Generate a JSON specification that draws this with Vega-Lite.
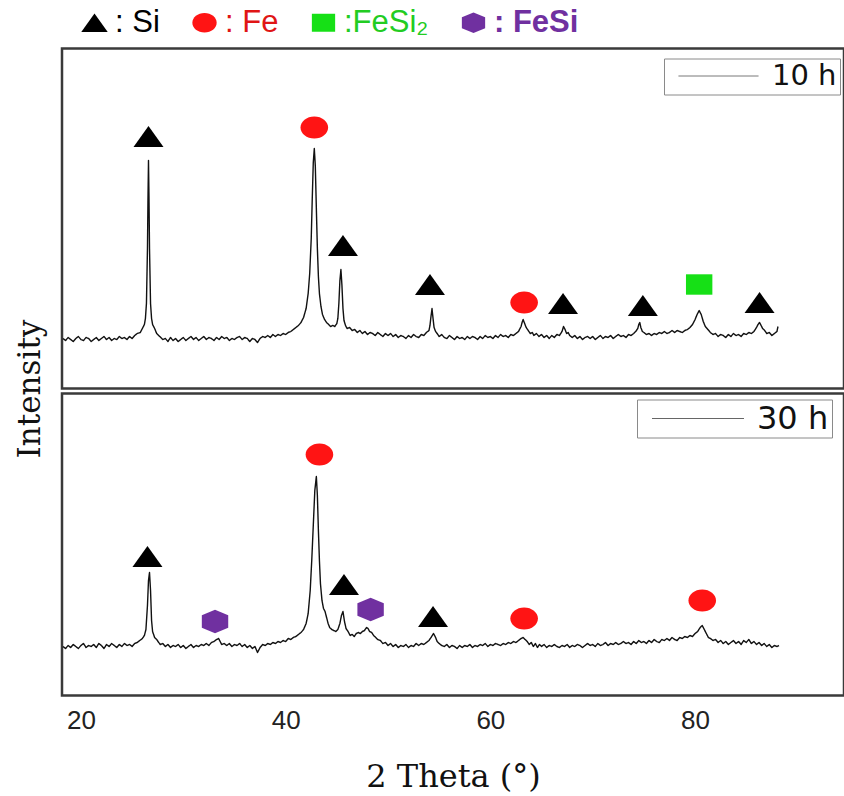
{
  "$schema": "https://vega.github.io/schema/vega-lite/v6.json",
  "background": "white",
  "padding": {"left": 12, "top": 6.5, "right": 0, "bottom": 0},
  "bounds": "flush",
  "spacing": 5,
  "config": {
    "view": {"stroke": "#3a3a3a", "strokeWidth": 2.5},
    "axis": {"grid": false, "domain": false, "ticks": false}
  },
  "datasets": {
    "scan10": [
      {"theta":18.25,"I":50},{"theta":18.5,"I":48},{"theta":18.75,"I":51},{"theta":19,"I":49},{"theta":19.25,"I":47},{"theta":19.5,"I":50},{"theta":19.75,"I":52},{"theta":20,"I":49},{"theta":20.25,"I":48},{"theta":20.5,"I":51},{"theta":20.75,"I":50},{"theta":21,"I":47},{"theta":21.25,"I":49},{"theta":21.5,"I":51},{"theta":21.75,"I":48},{"theta":22,"I":50},{"theta":22.25,"I":52},{"theta":22.5,"I":49},{"theta":22.75,"I":51},{"theta":23,"I":48},{"theta":23.25,"I":50},{"theta":23.5,"I":49},{"theta":23.75,"I":52},{"theta":24,"I":50},{"theta":24.25,"I":51},{"theta":24.5,"I":49},{"theta":24.75,"I":52},{"theta":25,"I":50},{"theta":25.25,"I":53},{"theta":25.5,"I":55},{"theta":25.8,"I":56},{"theta":26,"I":60},{"theta":26.2,"I":64},{"theta":26.3,"I":70},{"theta":26.4,"I":85},{"theta":26.5,"I":140},{"theta":26.55,"I":190},{"theta":26.6,"I":228},{"theta":26.65,"I":190},{"theta":26.7,"I":140},{"theta":26.8,"I":85},{"theta":26.9,"I":70},{"theta":27,"I":64},{"theta":27.2,"I":60},{"theta":27.4,"I":55},{"theta":27.6,"I":53},{"theta":27.8,"I":51},
      {"theta":28,"I":49},{"theta":28.25,"I":50},{"theta":28.5,"I":47},{"theta":28.75,"I":51},{"theta":29,"I":48},{"theta":29.25,"I":50},{"theta":29.5,"I":47},{"theta":29.75,"I":49},{"theta":30,"I":51},{"theta":30.25,"I":48},{"theta":30.5,"I":50},{"theta":30.75,"I":52},{"theta":31,"I":49},{"theta":31.25,"I":51},{"theta":31.5,"I":48},{"theta":31.75,"I":50},{"theta":32,"I":52},{"theta":32.25,"I":49},{"theta":32.5,"I":51},{"theta":32.75,"I":50},{"theta":33,"I":48},{"theta":33.25,"I":51},{"theta":33.5,"I":49},{"theta":33.75,"I":52},{"theta":34,"I":50},{"theta":34.25,"I":51},{"theta":34.5,"I":48},{"theta":34.75,"I":50},{"theta":35,"I":49},{"theta":35.25,"I":51},{"theta":35.5,"I":52},{"theta":35.75,"I":49},{"theta":36,"I":51},{"theta":36.25,"I":50},{"theta":36.5,"I":47},{"theta":36.75,"I":50},{"theta":37,"I":49},{"theta":37.25,"I":46},{"theta":37.5,"I":50},{"theta":37.75,"I":52},{"theta":38,"I":51},{"theta":38.25,"I":53},{"theta":38.5,"I":51},{"theta":38.75,"I":54},{"theta":39,"I":52},{"theta":39.25,"I":54},{"theta":39.5,"I":53},{"theta":39.75,"I":55},{"theta":40,"I":54},{"theta":40.25,"I":56},{"theta":40.5,"I":57},{"theta":40.75,"I":59},{"theta":41,"I":61},{"theta":41.25,"I":63},{"theta":41.5,"I":66},{"theta":41.75,"I":71},{"theta":42,"I":80},{"theta":42.2,"I":95},{"theta":42.35,"I":115},{"theta":42.5,"I":150},{"theta":42.6,"I":190},{"theta":42.7,"I":226},{"theta":42.8,"I":240},{"theta":42.9,"I":222},{"theta":43,"I":180},{"theta":43.1,"I":140},{"theta":43.2,"I":112},{"theta":43.3,"I":95},{"theta":43.45,"I":82},{"theta":43.6,"I":74},{"theta":43.8,"I":69},{"theta":44,"I":66},{"theta":44.2,"I":64},{"theta":44.4,"I":62},{"theta":44.6,"I":63},{"theta":44.8,"I":62},{"theta":45,"I":65},{"theta":45.1,"I":70},{"theta":45.2,"I":85},{"theta":45.3,"I":108},{"theta":45.4,"I":119},{"theta":45.5,"I":103},{"theta":45.6,"I":80},{"theta":45.7,"I":68},{"theta":45.85,"I":63},{"theta":46,"I":60},{"theta":46.25,"I":61},{"theta":46.5,"I":58},{"theta":46.75,"I":59},{"theta":47,"I":56},{"theta":47.25,"I":58},{"theta":47.5,"I":55},{"theta":47.75,"I":57},{"theta":48,"I":54},{"theta":48.25,"I":56},{"theta":48.5,"I":55},{"theta":48.75,"I":53},{"theta":49,"I":56},{"theta":49.25,"I":54},{"theta":49.5,"I":52},{"theta":49.75,"I":55},{"theta":50,"I":53},{"theta":50.25,"I":55},{"theta":50.5,"I":52},{"theta":50.75,"I":54},{"theta":51,"I":51},{"theta":51.25,"I":53},{"theta":51.5,"I":52},{"theta":51.75,"I":50},{"theta":52,"I":53},{"theta":52.25,"I":51},{"theta":52.5,"I":54},{"theta":52.75,"I":52},{"theta":53,"I":51},{"theta":53.25,"I":54},{"theta":53.5,"I":53},{"theta":53.75,"I":56},{"theta":54,"I":58},{"theta":54.1,"I":63},{"theta":54.2,"I":72},{"theta":54.3,"I":80},{"theta":54.4,"I":70},{"theta":54.5,"I":61},{"theta":54.65,"I":57},{"theta":54.8,"I":55},{"theta":55,"I":52},{"theta":55.25,"I":54},{"theta":55.5,"I":51},{"theta":55.75,"I":50},{"theta":56,"I":53},{"theta":56.25,"I":51},{"theta":56.5,"I":49},{"theta":56.75,"I":52},{"theta":57,"I":50},{"theta":57.25,"I":51},{"theta":57.5,"I":49},{"theta":57.75,"I":52},{"theta":58,"I":50},{"theta":58.25,"I":52},{"theta":58.5,"I":51},{"theta":58.75,"I":49},{"theta":59,"I":52},{"theta":59.25,"I":50},{"theta":59.5,"I":53},{"theta":59.75,"I":51},{"theta":60,"I":52},{"theta":60.25,"I":50},{"theta":60.5,"I":53},{"theta":60.75,"I":51},{"theta":61,"I":54},{"theta":61.25,"I":52},{"theta":61.5,"I":53},{"theta":61.75,"I":51},{"theta":62,"I":54},{"theta":62.25,"I":53},{"theta":62.5,"I":55},{"theta":62.75,"I":57},{"theta":63,"I":62},{"theta":63.1,"I":66},{"theta":63.2,"I":69},{"theta":63.35,"I":65},{"theta":63.5,"I":61},{"theta":63.7,"I":58},{"theta":63.9,"I":55},{"theta":64.1,"I":56},{"theta":64.25,"I":53},{"theta":64.5,"I":55},{"theta":64.75,"I":52},{"theta":65,"I":54},{"theta":65.25,"I":51},{"theta":65.5,"I":53},{"theta":65.75,"I":50},{"theta":66,"I":53},{"theta":66.25,"I":51},{"theta":66.5,"I":54},{"theta":66.75,"I":53},{"theta":67,"I":57},{"theta":67.15,"I":62},{"theta":67.3,"I":59},{"theta":67.45,"I":55},{"theta":67.6,"I":56},{"theta":67.75,"I":53},{"theta":68,"I":51},{"theta":68.25,"I":53},{"theta":68.5,"I":50},{"theta":68.75,"I":52},{"theta":69,"I":49},{"theta":69.25,"I":51},{"theta":69.5,"I":52},{"theta":69.75,"I":50},{"theta":70,"I":52},{"theta":70.25,"I":49},{"theta":70.5,"I":51},{"theta":70.75,"I":53},{"theta":71,"I":50},{"theta":71.25,"I":52},{"theta":71.5,"I":51},{"theta":71.75,"I":53},{"theta":72,"I":50},{"theta":72.25,"I":52},{"theta":72.5,"I":54},{"theta":72.75,"I":52},{"theta":73,"I":53},{"theta":73.25,"I":51},{"theta":73.5,"I":54},{"theta":73.75,"I":53},{"theta":74,"I":55},{"theta":74.2,"I":57},{"theta":74.4,"I":60},{"theta":74.5,"I":64},{"theta":74.6,"I":66},{"theta":74.7,"I":61},{"theta":74.85,"I":57},{"theta":75,"I":56},{"theta":75.25,"I":54},{"theta":75.5,"I":55},{"theta":75.75,"I":53},{"theta":76,"I":55},{"theta":76.25,"I":54},{"theta":76.5,"I":56},{"theta":76.75,"I":55},{"theta":77,"I":57},{"theta":77.25,"I":55},{"theta":77.5,"I":56},{"theta":77.75,"I":58},{"theta":78,"I":56},{"theta":78.25,"I":58},{"theta":78.5,"I":57},{"theta":78.75,"I":56},{"theta":79,"I":58},{"theta":79.25,"I":59},{"theta":79.5,"I":61},{"theta":79.75,"I":64},{"theta":80,"I":69},{"theta":80.2,"I":74},{"theta":80.4,"I":78},{"theta":80.6,"I":74},{"theta":80.8,"I":67},{"theta":81,"I":62},{"theta":81.25,"I":59},{"theta":81.5,"I":56},{"theta":81.75,"I":54},{"theta":82,"I":55},{"theta":82.25,"I":52},{"theta":82.5,"I":54},{"theta":82.75,"I":53},{"theta":83,"I":51},{"theta":83.25,"I":54},{"theta":83.5,"I":52},{"theta":83.75,"I":55},{"theta":84,"I":53},{"theta":84.25,"I":54},{"theta":84.5,"I":52},{"theta":84.75,"I":55},{"theta":85,"I":54},{"theta":85.25,"I":56},{"theta":85.5,"I":55},{"theta":85.75,"I":57},{"theta":86,"I":61},{"theta":86.15,"I":64},{"theta":86.3,"I":66},{"theta":86.45,"I":63},{"theta":86.6,"I":60},{"theta":86.8,"I":58},{"theta":87,"I":55},{"theta":87.25,"I":56},{"theta":87.5,"I":53},{"theta":87.75,"I":55},{"theta":88,"I":57},{"theta":88.1,"I":62}
    ],
    "scan30": [
      {"theta":18.25,"I":49},{"theta":18.5,"I":47},{"theta":18.75,"I":50},{"theta":19,"I":48},{"theta":19.25,"I":51},{"theta":19.5,"I":49},{"theta":19.75,"I":47},{"theta":20,"I":50},{"theta":20.25,"I":52},{"theta":20.5,"I":48},{"theta":20.75,"I":50},{"theta":21,"I":49},{"theta":21.25,"I":51},{"theta":21.5,"I":48},{"theta":21.75,"I":52},{"theta":22,"I":50},{"theta":22.25,"I":47},{"theta":22.5,"I":51},{"theta":22.75,"I":49},{"theta":23,"I":52},{"theta":23.25,"I":50},{"theta":23.5,"I":48},{"theta":23.75,"I":51},{"theta":24,"I":49},{"theta":24.25,"I":52},{"theta":24.5,"I":50},{"theta":24.75,"I":51},{"theta":25,"I":49},{"theta":25.25,"I":52},{"theta":25.5,"I":53},{"theta":25.75,"I":55},{"theta":26,"I":57},{"theta":26.2,"I":60},{"theta":26.35,"I":66},{"theta":26.5,"I":90},{"theta":26.6,"I":115},{"theta":26.7,"I":123},{"theta":26.8,"I":105},{"theta":26.9,"I":75},{"theta":27,"I":64},{"theta":27.2,"I":58},{"theta":27.4,"I":56},{"theta":27.6,"I":53},{"theta":27.75,"I":51},{"theta":28,"I":52},{"theta":28.25,"I":49},{"theta":28.5,"I":51},{"theta":28.75,"I":48},{"theta":29,"I":50},{"theta":29.25,"I":49},{"theta":29.5,"I":51},{"theta":29.75,"I":48},{"theta":30,"I":50},{"theta":30.25,"I":47},{"theta":30.5,"I":49},{"theta":30.75,"I":51},{"theta":31,"I":48},{"theta":31.25,"I":50},{"theta":31.5,"I":49},{"theta":31.75,"I":51},{"theta":32,"I":50},{"theta":32.25,"I":52},{"theta":32.5,"I":50},{"theta":32.75,"I":53},{"theta":33,"I":54},{"theta":33.25,"I":56},{"theta":33.45,"I":57},{"theta":33.6,"I":54},{"theta":33.75,"I":51},{"theta":34,"I":52},{"theta":34.25,"I":50},{"theta":34.5,"I":52},{"theta":34.75,"I":49},{"theta":35,"I":51},{"theta":35.25,"I":50},{"theta":35.5,"I":52},{"theta":35.75,"I":49},{"theta":36,"I":51},{"theta":36.25,"I":48},{"theta":36.5,"I":50},{"theta":36.75,"I":47},{"theta":37,"I":49},{"theta":37.25,"I":43},{"theta":37.5,"I":48},{"theta":37.75,"I":51},{"theta":38,"I":50},{"theta":38.25,"I":52},{"theta":38.5,"I":51},{"theta":38.75,"I":53},{"theta":39,"I":52},{"theta":39.25,"I":54},{"theta":39.5,"I":53},{"theta":39.75,"I":55},{"theta":40,"I":54},{"theta":40.25,"I":57},{"theta":40.5,"I":56},{"theta":40.75,"I":58},{"theta":41,"I":59},{"theta":41.25,"I":61},{"theta":41.5,"I":63},{"theta":41.75,"I":66},{"theta":42,"I":72},{"theta":42.2,"I":82},{"theta":42.4,"I":105},{"theta":42.55,"I":135},{"theta":42.7,"I":170},{"theta":42.85,"I":205},{"theta":43,"I":219},{"theta":43.1,"I":200},{"theta":43.2,"I":165},{"theta":43.3,"I":135},{"theta":43.4,"I":112},{"theta":43.55,"I":95},{"theta":43.7,"I":87},{"theta":43.85,"I":84},{"theta":44,"I":78},{"theta":44.15,"I":72},{"theta":44.3,"I":68},{"theta":44.5,"I":66},{"theta":44.7,"I":65},{"theta":44.9,"I":64},{"theta":45.1,"I":66},{"theta":45.3,"I":72},{"theta":45.45,"I":80},{"theta":45.6,"I":84},{"theta":45.75,"I":74},{"theta":45.9,"I":67},{"theta":46.1,"I":64},{"theta":46.3,"I":60},{"theta":46.5,"I":61},{"theta":46.7,"I":59},{"theta":46.9,"I":62},{"theta":47.1,"I":63},{"theta":47.3,"I":62},{"theta":47.5,"I":64},{"theta":47.7,"I":65},{"theta":47.9,"I":68},{"theta":48.05,"I":67},{"theta":48.2,"I":64},{"theta":48.4,"I":63},{"theta":48.6,"I":60},{"theta":48.8,"I":58},{"theta":49,"I":56},{"theta":49.25,"I":55},{"theta":49.5,"I":52},{"theta":49.75,"I":53},{"theta":50,"I":50},{"theta":50.25,"I":52},{"theta":50.5,"I":49},{"theta":50.75,"I":51},{"theta":51,"I":48},{"theta":51.25,"I":50},{"theta":51.5,"I":49},{"theta":51.75,"I":51},{"theta":52,"I":48},{"theta":52.25,"I":50},{"theta":52.5,"I":49},{"theta":52.75,"I":52},{"theta":53,"I":50},{"theta":53.25,"I":52},{"theta":53.5,"I":51},{"theta":53.75,"I":53},{"theta":54,"I":55},{"theta":54.2,"I":58},{"theta":54.45,"I":62},{"theta":54.65,"I":58},{"theta":54.8,"I":54},{"theta":55,"I":52},{"theta":55.25,"I":50},{"theta":55.5,"I":49},{"theta":55.75,"I":51},{"theta":56,"I":48},{"theta":56.25,"I":50},{"theta":56.5,"I":49},{"theta":56.75,"I":47},{"theta":57,"I":50},{"theta":57.25,"I":48},{"theta":57.5,"I":50},{"theta":57.75,"I":49},{"theta":58,"I":51},{"theta":58.25,"I":48},{"theta":58.5,"I":50},{"theta":58.75,"I":49},{"theta":59,"I":51},{"theta":59.25,"I":50},{"theta":59.5,"I":52},{"theta":59.75,"I":49},{"theta":60,"I":51},{"theta":60.25,"I":50},{"theta":60.5,"I":52},{"theta":60.75,"I":51},{"theta":61,"I":50},{"theta":61.25,"I":52},{"theta":61.5,"I":51},{"theta":61.75,"I":53},{"theta":62,"I":52},{"theta":62.25,"I":54},{"theta":62.5,"I":53},{"theta":62.75,"I":55},{"theta":63,"I":57},{"theta":63.2,"I":58},{"theta":63.4,"I":56},{"theta":63.6,"I":54},{"theta":63.8,"I":51},{"theta":64,"I":53},{"theta":64.2,"I":49},{"theta":64.4,"I":52},{"theta":64.6,"I":48},{"theta":64.8,"I":51},{"theta":65,"I":49},{"theta":65.25,"I":51},{"theta":65.5,"I":48},{"theta":65.75,"I":50},{"theta":66,"I":49},{"theta":66.25,"I":51},{"theta":66.5,"I":49},{"theta":66.75,"I":48},{"theta":67,"I":50},{"theta":67.25,"I":49},{"theta":67.5,"I":51},{"theta":67.75,"I":48},{"theta":68,"I":50},{"theta":68.25,"I":49},{"theta":68.5,"I":51},{"theta":68.75,"I":50},{"theta":69,"I":48},{"theta":69.25,"I":50},{"theta":69.5,"I":52},{"theta":69.75,"I":50},{"theta":70,"I":51},{"theta":70.25,"I":49},{"theta":70.5,"I":52},{"theta":70.75,"I":50},{"theta":71,"I":51},{"theta":71.25,"I":53},{"theta":71.5,"I":50},{"theta":71.75,"I":52},{"theta":72,"I":51},{"theta":72.25,"I":53},{"theta":72.5,"I":51},{"theta":72.75,"I":52},{"theta":73,"I":54},{"theta":73.25,"I":52},{"theta":73.5,"I":53},{"theta":73.75,"I":51},{"theta":74,"I":54},{"theta":74.25,"I":52},{"theta":74.5,"I":55},{"theta":74.75,"I":53},{"theta":75,"I":54},{"theta":75.25,"I":52},{"theta":75.5,"I":55},{"theta":75.75,"I":53},{"theta":76,"I":56},{"theta":76.25,"I":54},{"theta":76.5,"I":53},{"theta":76.75,"I":56},{"theta":77,"I":55},{"theta":77.25,"I":57},{"theta":77.5,"I":55},{"theta":77.75,"I":58},{"theta":78,"I":56},{"theta":78.25,"I":55},{"theta":78.5,"I":58},{"theta":78.75,"I":57},{"theta":79,"I":59},{"theta":79.25,"I":58},{"theta":79.5,"I":60},{"theta":79.75,"I":59},{"theta":80,"I":62},{"theta":80.25,"I":64},{"theta":80.5,"I":68},{"theta":80.7,"I":70},{"theta":80.9,"I":66},{"theta":81.1,"I":62},{"theta":81.3,"I":58},{"theta":81.5,"I":57},{"theta":81.75,"I":55},{"theta":82,"I":56},{"theta":82.25,"I":53},{"theta":82.5,"I":55},{"theta":82.75,"I":52},{"theta":83,"I":54},{"theta":83.25,"I":51},{"theta":83.5,"I":53},{"theta":83.75,"I":55},{"theta":84,"I":52},{"theta":84.25,"I":54},{"theta":84.5,"I":51},{"theta":84.75,"I":55},{"theta":85,"I":53},{"theta":85.25,"I":56},{"theta":85.5,"I":52},{"theta":85.75,"I":54},{"theta":86,"I":51},{"theta":86.25,"I":53},{"theta":86.5,"I":50},{"theta":86.75,"I":52},{"theta":87,"I":49},{"theta":87.25,"I":51},{"theta":87.5,"I":48},{"theta":87.75,"I":50},{"theta":88,"I":49},{"theta":88.2,"I":50}
    ],
    "peaks": [
      {"scan":"10 h","phase":"Si","theta":26.6,"mark_at":252},
      {"scan":"10 h","phase":"Fe","theta":42.8,"mark_at":261},
      {"scan":"10 h","phase":"Si","theta":45.6,"mark_at":143},
      {"scan":"10 h","phase":"Si","theta":54.1,"mark_at":104},
      {"scan":"10 h","phase":"Fe","theta":63.3,"mark_at":86},
      {"scan":"10 h","phase":"Si","theta":67.1,"mark_at":85},
      {"scan":"10 h","phase":"Si","theta":74.9,"mark_at":83},
      {"scan":"10 h","phase":"FeSi₂","theta":80.4,"mark_at":104},
      {"scan":"10 h","phase":"Si","theta":86.3,"mark_at":86},
      {"scan":"30 h","phase":"Si","theta":26.5,"mark_at":139},
      {"scan":"30 h","phase":"FeSi","theta":33.1,"mark_at":74},
      {"scan":"30 h","phase":"Fe","theta":43.3,"mark_at":241},
      {"scan":"30 h","phase":"Si","theta":45.7,"mark_at":111},
      {"scan":"30 h","phase":"FeSi","theta":48.3,"mark_at":86},
      {"scan":"30 h","phase":"Si","theta":54.4,"mark_at":79},
      {"scan":"30 h","phase":"Fe","theta":63.3,"mark_at":77},
      {"scan":"30 h","phase":"Fe","theta":80.7,"mark_at":95}
    ]
  },
  "vconcat": [
    {
      "width": 782,
      "height": 340,
      "layer": [
        {
          "data": {"name": "scan10"},
          "mark": {"type": "line", "color": "#111111", "strokeWidth": 1.4, "strokeJoin": "round"},
          "encoding": {
            "x": {"field": "theta", "type": "quantitative", "scale": {"domain": [18.15, 94.55], "nice": false, "zero": false}, "axis": null},
            "y": {"field": "I", "type": "quantitative", "scale": {"domain": [0, 340], "nice": false, "zero": false},
                  "axis": {"title": "Intensity", "labels": false, "titleFont": "DejaVu Serif", "titleFontSize": 31, "titleFontWeight": "normal", "titleColor": "#111111", "titlePadding": 16, "titleY": 340}},
            "strokeDash": {"datum": "10 h", "scale": {"range": [[1, 0]]},
              "legend": {"title": null, "orient": "none", "legendX": 602, "legendY": 10, "symbolType": "M-3,0H3", "symbolSize": 711, "symbolStrokeWidth": 1, "symbolStrokeColor": "#666666", "labelFont": "DejaVu Sans", "labelFontSize": 29, "labelColor": "#111111", "padding": 3, "strokeColor": "#8a8a8a", "fillColor": "white", "symbolOffset": 37, "labelOffset": 39}}
          }
        },
        {
          "data": {"name": "peaks"},
          "transform": [{"filter": "datum.scan === '10 h'"}],
          "mark": {"type": "point", "filled": true, "opacity": 1, "size": 900, "strokeWidth": 0},
          "encoding": {
            "x": {"field": "theta", "type": "quantitative"},
            "y": {"field": "mark_at", "type": "quantitative"},
            "shape": {"field": "phase", "type": "nominal",
              "scale": {"domain": ["Si", "Fe", "FeSi₂", "FeSi"], "range": ["M-1,0.7L1,0.7L0,-0.7Z", "M-0.92,0A0.92,0.74 0 1,1 0.92,0A0.92,0.74 0 1,1 -0.92,0Z", "M-0.88,-0.68H0.88V0.68H-0.88Z", "M0,-0.78L0.88,-0.42L0.88,0.42L0,0.78L-0.88,0.42L-0.88,-0.42Z"]},
              "legend": {"title": null, "orient": "none", "legendX": 17, "legendY": -41.5, "direction": "horizontal", "symbolSize": 700, "labelFont": "Liberation Sans", "labelFontSize": 31, "labelOffset": 5, "columnPadding": 29, "labelExpr": "datum.label === 'FeSi₂' ? ':FeSi₂' : ': ' + datum.label",
                "labelColor": {"expr": "datum.value === 'Fe' ? '#e01515' : datum.value === 'FeSi₂' ? '#22cc22' : datum.value === 'FeSi' ? '#7030a0' : '#000000'"},
                "labelFontWeight": {"expr": "datum.value === 'FeSi' ? 'bold' : 'normal'"}}},
            "color": {"field": "phase", "type": "nominal",
              "scale": {"domain": ["Si", "Fe", "FeSi₂", "FeSi"], "range": ["#000000", "#ff1414", "#16e016", "#7030a0"]},
              "legend": {"title": null, "orient": "none", "legendX": 17, "legendY": -41.5, "direction": "horizontal", "symbolSize": 700, "labelFont": "Liberation Sans", "labelFontSize": 31, "labelOffset": 5, "columnPadding": 29, "labelExpr": "datum.label === 'FeSi₂' ? ':FeSi₂' : ': ' + datum.label",
                "labelColor": {"expr": "datum.value === 'Fe' ? '#e01515' : datum.value === 'FeSi₂' ? '#22cc22' : datum.value === 'FeSi' ? '#7030a0' : '#000000'"},
                "labelFontWeight": {"expr": "datum.value === 'FeSi' ? 'bold' : 'normal'"}}}
          }
        }
      ]
    },
    {
      "width": 782,
      "height": 302,
      "layer": [
        {
          "data": {"name": "scan30"},
          "mark": {"type": "line", "color": "#111111", "strokeWidth": 1.4, "strokeJoin": "round"},
          "encoding": {
            "x": {"field": "theta", "type": "quantitative", "scale": {"domain": [18.15, 94.55], "nice": false, "zero": false},
                  "axis": {"values": [20, 40, 60, 80], "title": "2 Theta (°)", "labelFont": "Liberation Sans", "labelFontSize": 26, "labelColor": "#222222", "labelPadding": 12, "labelFlush": false, "titleFont": "DejaVu Serif", "titleFontSize": 32, "titleFontWeight": "normal", "titleColor": "#111111", "titlePadding": 28}},
            "y": {"field": "I", "type": "quantitative", "scale": {"domain": [0, 302], "nice": false, "zero": false}, "axis": null},
            "strokeDash": {"datum": "30 h", "scale": {"range": [[1, 0]]},
              "legend": {"title": null, "orient": "none", "legendX": 575, "legendY": 6, "symbolType": "M-3,0H3", "symbolSize": 940, "symbolStrokeWidth": 1, "symbolStrokeColor": "#666666", "labelFont": "DejaVu Sans", "labelFontSize": 32, "labelColor": "#111111", "padding": 3, "strokeColor": "#8a8a8a", "fillColor": "white", "symbolOffset": 42, "labelOffset": 43}}
          }
        },
        {
          "data": {"name": "peaks"},
          "transform": [{"filter": "datum.scan === '30 h'"}],
          "mark": {"type": "point", "filled": true, "opacity": 1, "size": 900, "strokeWidth": 0},
          "encoding": {
            "x": {"field": "theta", "type": "quantitative"},
            "y": {"field": "mark_at", "type": "quantitative"},
            "shape": {"field": "phase", "type": "nominal"},
            "color": {"field": "phase", "type": "nominal"}
          }
        }
      ]
    }
  ],
  "resolve": {"scale": {"strokeDash": "independent"}}
}
